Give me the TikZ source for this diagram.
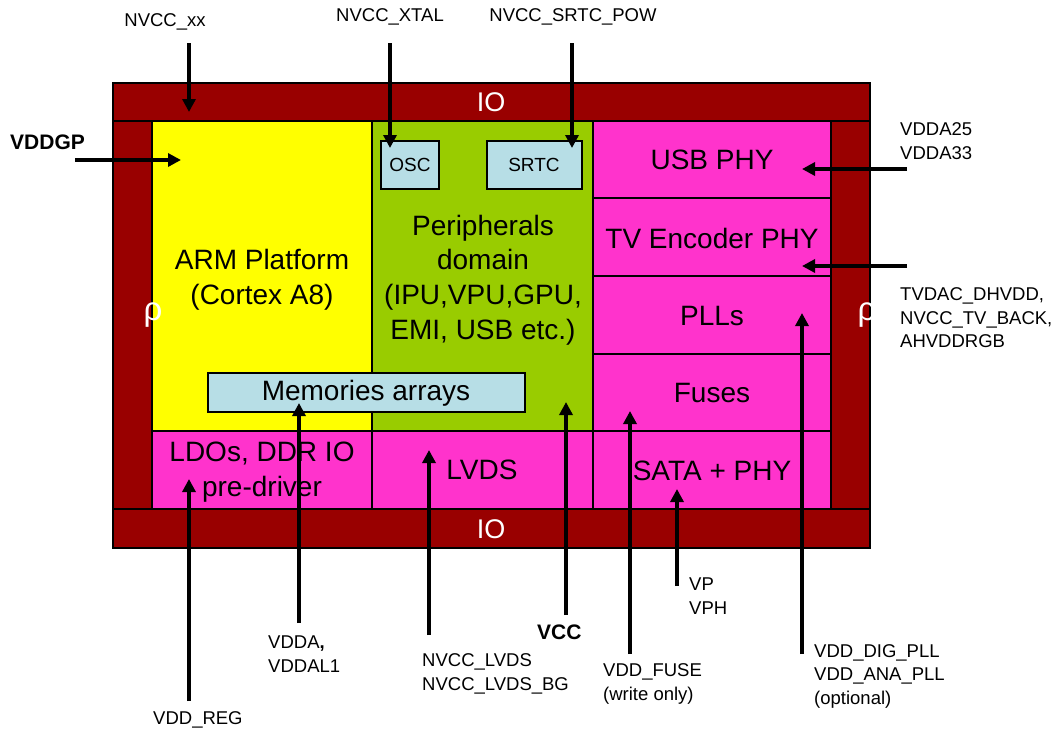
\documentclass[tikz,border=0pt]{standalone}
\usepackage{fontspec}
\setmainfont{Liberation Sans}
\usetikzlibrary{arrows.meta}
\definecolor{iored}{RGB}{153,0,0}
\definecolor{armyel}{RGB}{255,255,0}
\definecolor{pergrn}{RGB}{153,204,0}
\definecolor{phypink}{RGB}{255,51,204}
\definecolor{memblue}{RGB}{183,222,230}
\begin{document}
\begin{tikzpicture}[x=1pt,y=-1pt,
  blk/.style={draw=black,line width=1.6pt},
  bigtxt/.style={font=\fontsize{28}{34.7}\selectfont,align=center,inner sep=0pt},
  iotxt/.style={font=\fontsize{27}{30}\selectfont,text=white,inner sep=0pt},
  rhotxt/.style={font=\fontsize{33}{36}\selectfont,text=white,inner sep=0pt},
  smtxt/.style={font=\fontsize{18.5}{23.5}\selectfont,align=left,anchor=west,inner sep=0pt},
  boldtxt/.style={font=\fontsize{21}{25}\selectfont\bfseries,inner sep=0pt},
  pwr/.style={line width=4.5pt,-{Triangle[length=13pt,width=13pt]}}]
\useasboundingbox (0,0) rectangle (1055,731);
% outer IO ring
\path[blk,fill=iored] (113,83) rectangle (870,548);
\path[blk] (113,121) -- (870,121);
\path[blk] (113,509) -- (870,509);
% blocks
\path[blk,fill=armyel] (152,121) rectangle (372,431);
\path[blk,fill=pergrn] (372,121) rectangle (593,431);
\path[blk,fill=phypink] (593,121) rectangle (831,198);
\path[blk,fill=phypink] (593,198) rectangle (831,276);
\path[blk,fill=phypink] (593,276) rectangle (831,354);
\path[blk,fill=phypink] (593,354) rectangle (831,431);
\path[blk,fill=phypink] (152,431) rectangle (372,509);
\path[blk,fill=phypink] (372,431) rectangle (593,509);
\path[blk,fill=phypink] (593,431) rectangle (831,509);
\path[blk,fill=memblue] (381,141) rectangle (439,189);
\path[blk,fill=memblue] (487,141) rectangle (582,189);
\path[blk,fill=memblue] (208,373) rectangle (525,412);
% texts
\node[iotxt] (iotop) at (491,102) {IO};
\node[iotxt] (iobot) at (491,529) {IO};
\node[rhotxt] (ioleft) at (153,315) {ρ};
\node[rhotxt] (ioright) at (867,315) {ρ};
\node[bigtxt] (arm) at (262,280) {ARM Platform\\(Cortex A8)};
\node[bigtxt] (periph) at (483,280) {Peripherals\\domain\\(IPU,VPU,GPU,\\EMI, USB etc.)};
\node[font=\fontsize{19}{23}\selectfont,inner sep=0pt] (osc) at (410,165) {OSC};
\node[font=\fontsize{19}{23}\selectfont,inner sep=0pt] (srtc) at (534,165) {SRTC};
\node[bigtxt] (mem) at (366,393) {Memories arrays};
\node[bigtxt] (usb) at (712,160) {USB PHY};
\node[bigtxt] (tv) at (712,238) {TV Encoder PHY};
\node[bigtxt] (pll) at (712,316) {PLLs};
\node[bigtxt] (fuse) at (712,393) {Fuses};
\node[bigtxt] (ldo) at (262,472) {LDOs, DDR IO\\pre-driver};
\node[bigtxt] (lvds) at (482,470) {LVDS};
\node[bigtxt] (sata) at (712,471) {SATA + PHY};
% labels
\node[smtxt,anchor=center] (lxx) at (165,22) {NVCC\_xx};
\node[smtxt,anchor=center] (lxtal) at (390,17) {NVCC\_XTAL};
\node[smtxt,anchor=center] (lsrtc) at (573,17) {NVCC\_SRTC\_POW};
\node[boldtxt,anchor=west] (lgp) at (10,142) {VDDGP};
\node[smtxt] (lusb) at (900,141) {VDDA25\\VDDA33};
\node[smtxt] (ltv) at (900,318) {TVDAC\_DHVDD,\\NVCC\_TV\_BACK,\\AHVDDRGB};
\node[smtxt] (lpll) at (814,676) {VDD\_DIG\_PLL\\VDD\_ANA\_PLL\\(optional)};
\node[smtxt] (lfuse) at (603,684) {VDD\_FUSE\\(write only)};
\node[smtxt] (lvp) at (689,596) {VP\\VPH};
\node[boldtxt,anchor=west] (lvcc) at (537,632) {VCC};
\node[smtxt] (llvds) at (422,674) {NVCC\_LVDS\\NVCC\_LVDS\_BG};
\node[smtxt] (lvdda) at (268,654) {VDDA\textbf{,}\\VDDAL1};
\node[smtxt] (lreg) at (153,720) {VDD\_REG};
% connector coordinates
\coordinate (sxx) at (189,43);   \coordinate (exx) at (189,112);
\coordinate (sxtal) at (390,43); \coordinate (extal) at (390,148);
\coordinate (ssrtc) at (572,43); \coordinate (esrtc) at (572,148);
\coordinate (sgp) at (75,160);   \coordinate (egp) at (181,160);
\coordinate (susb) at (907,169); \coordinate (eusb) at (802,169);
\coordinate (stv) at (907,266);  \coordinate (etv) at (802,266);
\coordinate (spll) at (802,654); \coordinate (epll) at (802,313);
\coordinate (svp) at (677,586);  \coordinate (evp) at (677,489);
\coordinate (sfuse) at (630,654);\coordinate (efuse) at (630,411);
\coordinate (svcc) at (566,615); \coordinate (evcc) at (566,402);
\coordinate (slvds) at (429,635);\coordinate (elvds) at (429,450);
\coordinate (svdda) at (299,623);\coordinate (evdda) at (299,403);
\coordinate (sreg) at (189,701); \coordinate (ereg) at (189,479);
% connectors
\draw[pwr] (sxx) -- (exx);
\draw[pwr] (sxtal) -- (extal);
\draw[pwr] (ssrtc) -- (esrtc);
\draw[pwr] (sgp) -- (egp);
\draw[pwr] (susb) -- (eusb);
\draw[pwr] (stv) -- (etv);
\draw[pwr] (spll) -- (epll);
\draw[pwr] (svp) -- (evp);
\draw[pwr] (sfuse) -- (efuse);
\draw[pwr] (svcc) -- (evcc);
\draw[pwr] (slvds) -- (elvds);
\draw[pwr] (svdda) -- (evdda);
\draw[pwr] (sreg) -- (ereg);
\end{tikzpicture}
\end{document}
